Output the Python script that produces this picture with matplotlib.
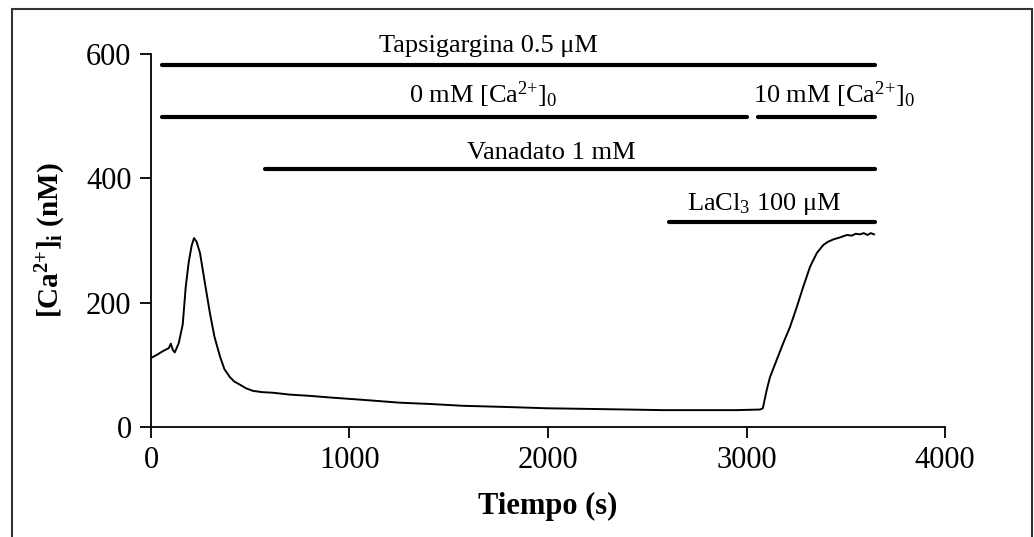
import matplotlib
matplotlib.use("Agg")
import matplotlib.pyplot as plt
from matplotlib.patches import Rectangle

plt.rcParams['font.family'] = ['Liberation Serif', 'DejaVu Serif']
plt.rcParams['mathtext.fontset'] = 'custom'
plt.rcParams['mathtext.rm'] = 'Liberation Serif'
plt.rcParams['mathtext.it'] = 'Liberation Serif:italic'
plt.rcParams['mathtext.bf'] = 'Liberation Serif:bold'

# calcium trace (s, nM)
tiempo = [0, 30, 60, 90, 100, 110, 120, 140, 160, 175, 190, 205, 217, 230, 247, 270, 297,
          320, 348, 370, 398, 420, 448, 480, 514, 560, 615, 700, 800, 917, 1050,
          1254, 1400, 1572, 1800, 1995, 2200, 2400, 2580, 2800, 2950, 3068, 3082,
          3102, 3118, 3152, 3185, 3219, 3253, 3286, 3320, 3354, 3387, 3410,
          3438, 3470, 3505, 3530, 3550, 3572, 3590, 3610, 3625, 3642]
calcio = [111, 116, 122, 127, 134, 124, 120, 135, 165, 225, 265, 292, 304, 298, 280, 235, 183,
          145, 113, 93, 80, 73, 68, 62, 58, 56, 55, 52, 50, 47, 44,
          39, 37, 34, 32, 30, 29, 28, 27, 27, 27, 28, 30,
          60, 80, 108, 135, 161, 193, 226, 258, 280, 293, 298,
          302, 305, 309, 308, 311, 310, 312, 309, 312, 310]

# treatment bars: label, start, end, level, label x, label y
etiquetas = ['Tapsigargina 0.5 μM', '0 mM [Ca$^{2{+}}$]$_0$', '10 mM [Ca$^{2{+}}$]$_0$',
             'Vanadato 1 mM', 'LaCl$_3$ 100 μM']
inicio = [55, 55, 3058, 575, 2610]
fin = [3647, 3003, 3647, 3647, 3647]
nivel = [582, 499, 499, 415, 330]
texto_x = [1698, 1673, 3441, 2015, 3088]
texto_y = [603, 521, 521, 431, 349]

fig = plt.figure(figsize=(10.34, 5.37), dpi=100)
ax = fig.add_axes([0.146, 0.205, 0.768, 0.694])

ax.plot(tiempo, calcio, color='black', lw=1.4)

for lab, x0, x1, y, tx, ty in zip(etiquetas, inicio, fin, nivel, texto_x, texto_y):
    ax.plot([x0, x1], [y, y], color='black', lw=3, solid_capstyle='round', clip_on=False)
    ax.text(tx, ty, lab, ha='center', va='baseline', fontsize=19, clip_on=False)

ax.set_xlim(0, 4000)
ax.set_ylim(0, 600)
ax.set_xticks([0, 1000, 2000, 3000, 4000])
ax.set_yticks([0, 200, 400, 600])
ax.tick_params(direction='out', length=8, width=1.3, labelsize=22, pad=6)
for s in ['top', 'right']:
    ax.spines[s].set_visible(False)
for s in ['left', 'bottom']:
    ax.spines[s].set_linewidth(1.3)

ax.set_xlabel('Tiempo (s)', fontsize=22, fontweight='bold', labelpad=12)
ax.set_ylabel(r'$\mathbf{[Ca^{2{+}}]_i}$ (nM)', fontsize=21, fontweight='bold')
ax.yaxis.set_label_coords(-0.104, 0.5)

# outer frame around the figure
fig.patches.append(Rectangle((0.0116, -0.02), 0.9865, 1.003, transform=fig.transFigure,
                             fill=False, edgecolor='#333333', lw=1.5))

fig.savefig('out.png', dpi=100)
